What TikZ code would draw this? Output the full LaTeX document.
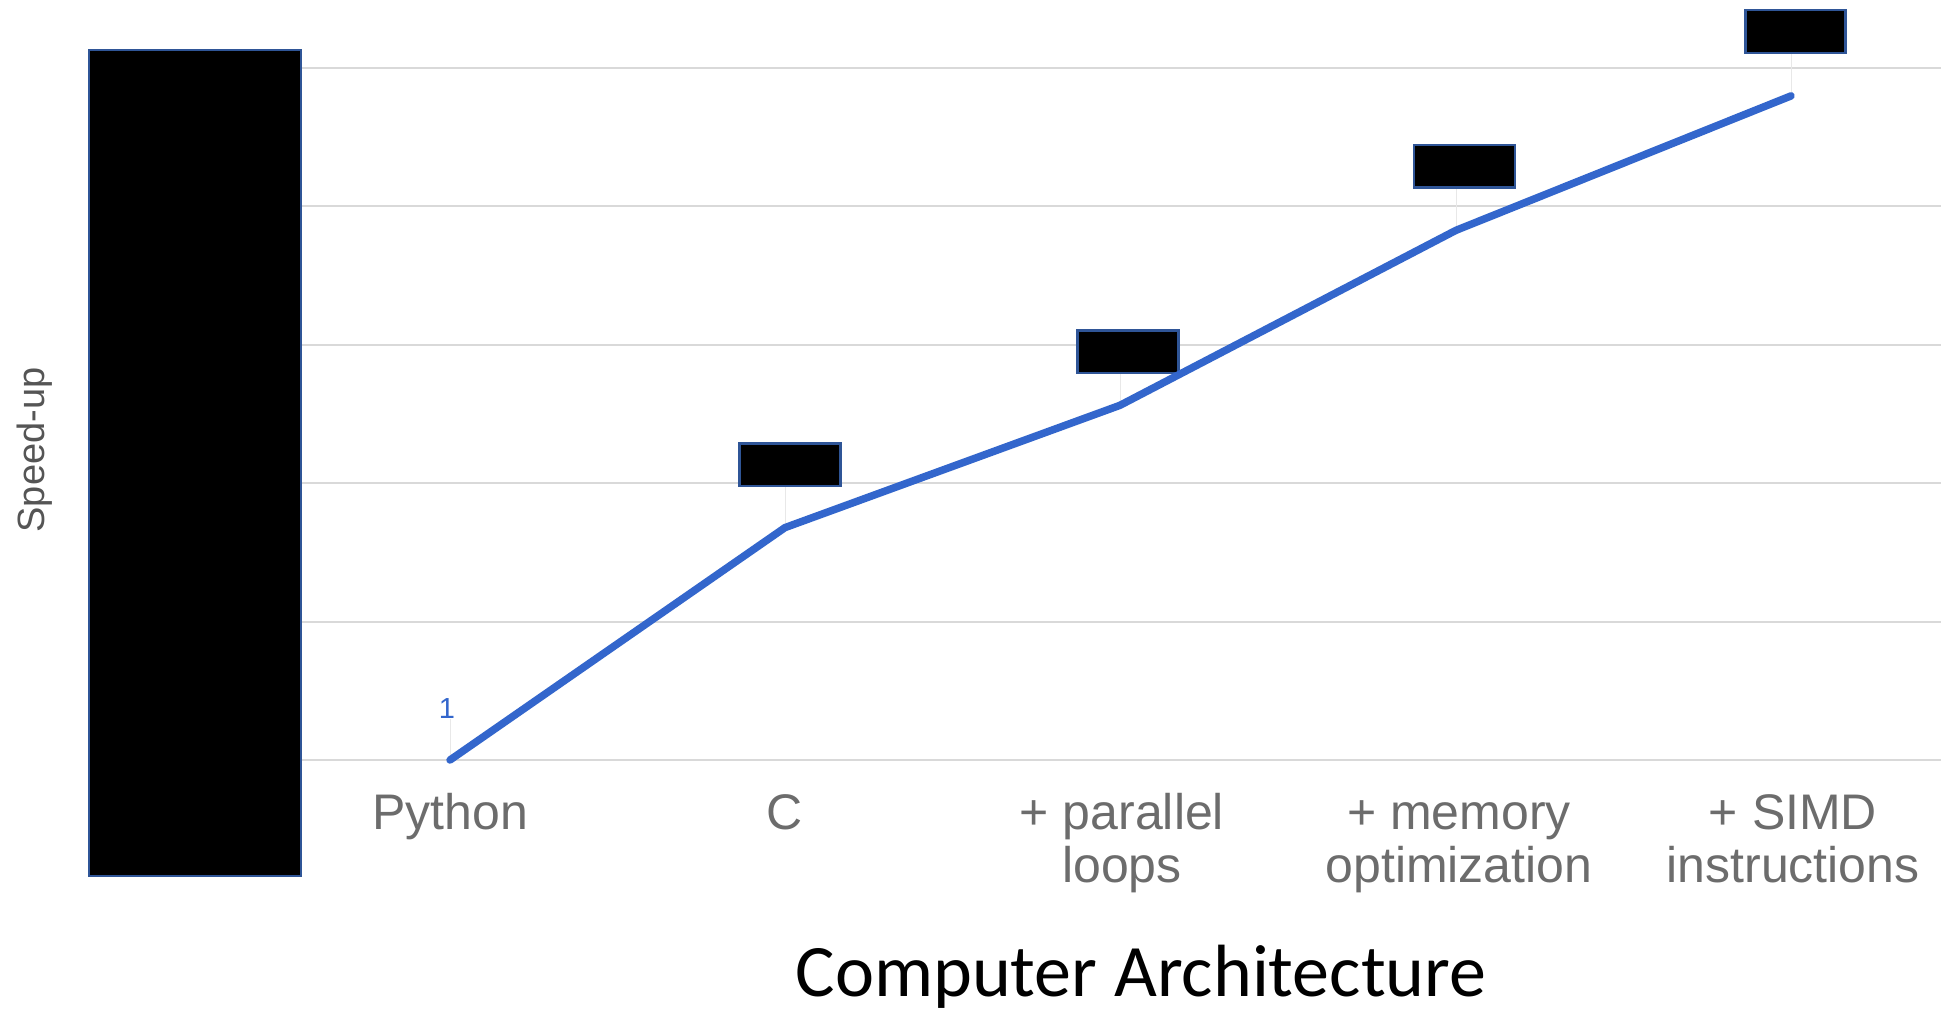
\documentclass[tikz,border=0pt]{standalone}
\usepackage{fontspec}
\setmainfont{Liberation Sans}
\newfontfamily\captionfont{Carlito}
\usetikzlibrary{calc}

\definecolor{series}{RGB}{51,102,204}
\definecolor{gridgray}{RGB}{217,217,217}
\definecolor{leadgray}{RGB}{232,232,232}
\definecolor{labelgray}{RGB}{108,108,108}
\definecolor{titlegray}{RGB}{85,85,85}
\definecolor{maskedge}{RGB}{47,85,151}

\begin{document}
\begin{tikzpicture}[x=1pt,y=-1pt,
  gridline/.style={draw=gridgray,line width=2pt},
  leader/.style={draw=leadgray,line width=1pt},
  seriesline/.style={draw=series,line width=7.5pt,line join=round,line cap=round},
  maskbox/.style={draw=maskedge,fill=black,line width=2.5pt,inner sep=0pt},
  catlabel/.style={text=labelgray,font=\fontsize{50}{53}\selectfont,align=center,inner sep=0pt,anchor=base},
  vallabel/.style={text=series,font=\fontsize{29}{31}\selectfont,inner sep=0pt},
]
\useasboundingbox (0,0) rectangle (1941,1013);
\fill[white] (0,0) rectangle (1941,1013);

% horizontal grid, one line per decade (1 ... 100000)
\foreach \k in {0,...,5}
  \draw[gridline] (250,{760-138.4*\k}) -- (1941,{760-138.4*\k});

% data points on the log scale: y = 760 - 138.4*log10(v)
\coordinate (p0) at (450,760);
\coordinate (p1) at (785,527.6);
\coordinate (p2) at (1120,405.3);
\coordinate (p3) at (1456,230.3);
\coordinate (p4) at (1791,95.9);

% covered value labels
\node[maskbox,minimum width=101pt,minimum height=42.5pt] (m1) at (790,464.5) {};
\node[maskbox,minimum width=101pt,minimum height=42.5pt] (m2) at (1128,351.5) {};
\node[maskbox,minimum width=101pt,minimum height=42.5pt] (m3) at (1464.5,166) {};
\node[maskbox,minimum width=100pt,minimum height=43pt] (m4) at (1795.6,31.5) {};
\node[vallabel] (v0) at (447,709) {1};

% leaders from points to their labels
\draw[leader] (p0) -- (p0 |- v0.south);
\draw[leader] (p1) -- (p1 |- m1.south);
\draw[leader] (p2) -- (p2 |- m2.south);
\draw[leader] (p3) -- (p3 |- m3.south);
\draw[leader] (p4) -- (p4 |- m4.south);

% the series
\draw[seriesline] (p0) -- (p1) -- (p2) -- (p3) -- (p4);

% covered axis values
\node[maskbox,minimum width=212pt,minimum height=826pt] (axismask) at (195,463) {};

% axis title
\node[text=titlegray,font=\fontsize{38}{40}\selectfont,rotate=90,inner sep=0pt] (ytitle) at (35,450) {Speed-up};

% category labels (two-line labels sit on the baseline of their last line)
\node[catlabel] (c0) at (450,829) {Python};
\node[catlabel] (c1) at (785,829) {C};
\node[catlabel] (c2) at (1122,882) {+ parallel\\loops};
\node[catlabel] (c3) at (1459,882) {+ memory\\optimization};
\node[catlabel] (c4) at (1793,882) {+ SIMD\\instructions};

% caption
\node[font=\captionfont\fontsize{74}{78}\selectfont,inner sep=0pt,anchor=base] (caption) at (1141,996) {Computer Architecture};
\end{tikzpicture}
\end{document}
